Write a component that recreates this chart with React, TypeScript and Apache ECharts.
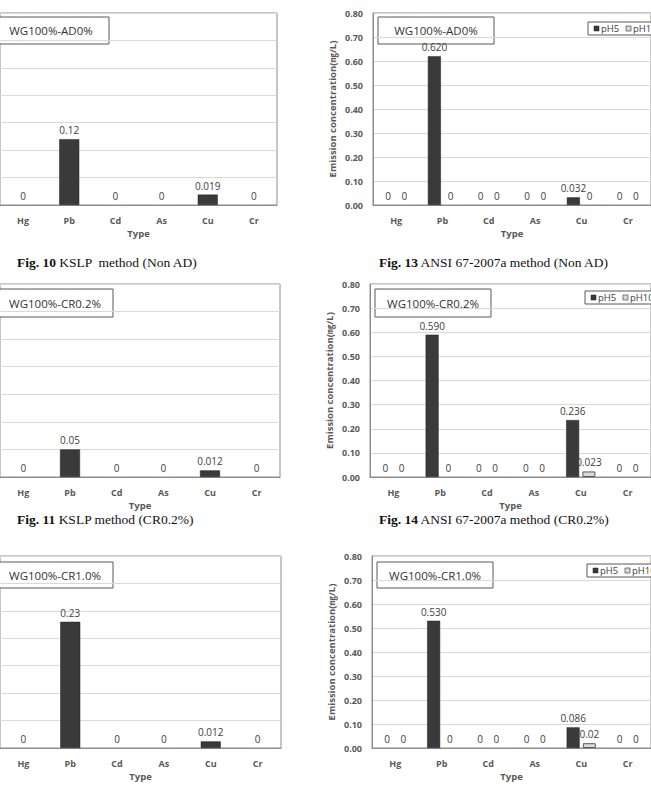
import React, { useEffect, useRef } from "react";
import * as echarts from "echarts";

// Heavy-metal leaching results, one bar chart per method and mix
const categories = ["Hg", "Pb", "Cd", "As", "Cu", "Cr"];

// KSLP method (mg/L)
const kslpNonAD = [0, 0.12, 0, 0, 0.019, 0];
const kslpCR02 = [0, 0.05, 0, 0, 0.012, 0];
const kslpCR10 = [0, 0.23, 0, 0, 0.012, 0];

// ANSI 67-2007a method (mg/L), pH5 and pH10 extractions
const ansiNonAD_pH5 = [0, 0.62, 0, 0, 0.032, 0];
const ansiNonAD_pH10 = [0, 0, 0, 0, 0, 0];
const ansiCR02_pH5 = [0, 0.59, 0, 0, 0.236, 0];
const ansiCR02_pH10 = [0, 0, 0, 0, 0.023, 0];
const ansiCR10_pH5 = [0, 0.53, 0, 0, 0.086, 0];
const ansiCR10_pH10 = [0, 0, 0, 0, 0.02, 0];

const mixLabels = ["WG100%-AD0%", "WG100%-CR0.2%", "WG100%-CR1.0%"];
const kslpCaptions = [
  ["Fig. 10", " KSLP  method (Non AD)"],
  ["Fig. 11", " KSLP method (CR0.2%)"],
];
const ansiCaptions = [
  ["Fig. 13", " ANSI 67-2007a method (Non AD)"],
  ["Fig. 14", " ANSI 67-2007a method (CR0.2%)"],
];

const yAxisName = "Emission concentration(\u338E/L)";
const xAxisName = "Type";
const seriesNames = ["pH5", "pH10"];

const FONT = "'Open Sans', 'Noto Sans CJK KR', sans-serif";
const AXIS_GRAY = "#595959";
const FRAME = "#8c8c8c";
const GRIDLINE = "#d9d9d9";
const DARK = "#3a3a3a";
const LIGHT = "#d9d9d9";

// panel layout (pixels)
const rows = [
  { top: 13, height: 192, leftL: -12, rightL: 277, leftR: 373, box: [17, 44], legendTop: 22 },
  { top: 284, height: 193, leftL: -11, rightL: 280, leftR: 370, box: [289, 317], legendTop: 291 },
  { top: 556, height: 192, leftL: -10, rightL: 281, leftR: 372, box: [562, 588], legendTop: 564 },
];

const fmtFixed = (v: number) => (v === 0 ? "0" : v.toFixed(3));
const fmtPlain = (v: number) => (v === 0 ? "0" : String(v));

// zero-height bars get no outline, so only their value label remains
const toBarData = (values: number[]) =>
  values.map((v) => (v === 0 ? { value: v, itemStyle: { borderWidth: 0 } } : v));

export default function App() {
  const ref = useRef<HTMLDivElement>(null);

  useEffect(() => {
    if (!ref.current) return;
    const chart = echarts.init(ref.current, null, { renderer: "svg" });

    const kslpData = [kslpNonAD, kslpCR02, kslpCR10];
    const ansiData = [
      [ansiNonAD_pH5, ansiNonAD_pH10],
      [ansiCR02_pH5, ansiCR02_pH10],
      [ansiCR10_pH5, ansiCR10_pH10],
    ];

    const grids: any[] = [];
    const xAxes: any[] = [];
    const yAxes: any[] = [];
    const series: any[] = [];
    const graphics: any[] = [];

    const xAxisBase = (gi: number) => ({
      type: "category",
      gridIndex: gi,
      data: categories,
      axisTick: { show: false },
      axisLine: { lineStyle: { color: FRAME, width: 1 } },
      axisLabel: {
        color: AXIS_GRAY,
        fontFamily: FONT,
        fontSize: 9,
        fontWeight: "bold",
        margin: 11,
      },
      name: xAxisName,
      nameLocation: "middle",
      nameGap: 24,
      nameTextStyle: { color: AXIS_GRAY, fontFamily: FONT, fontSize: 9.5, fontWeight: "bold" },
    });

    const valueLabel = (fmt: (v: number) => string) => ({
      show: true,
      position: "top",
      distance: 4,
      color: "#404040",
      fontFamily: FONT,
      fontSize: 10,
      formatter: (p: any) => fmt(p.value as number),
    });

    const labelBox = (x: number, y0: number, y1: number, text: string) => ({
      type: "group",
      z: 100,
      children: [
        {
          type: "rect",
          shape: { x, y: y0, width: 116, height: y1 - y0 },
          style: { fill: "#fff", stroke: AXIS_GRAY, lineWidth: 1 },
        },
        {
          type: "text",
          x: x + 58,
          y: (y0 + y1) / 2,
          style: {
            text,
            fill: "#333",
            fontFamily: FONT,
            fontSize: 11.5,
            textAlign: "center",
            textVerticalAlign: "middle",
          },
        },
      ],
    });

    const legendBox = (x: number, y: number) => ({
      type: "group",
      z: 100,
      children: [
        {
          type: "rect",
          shape: { x, y, width: 110, height: 13 },
          style: { fill: "#fff", stroke: AXIS_GRAY, lineWidth: 1 },
        },
        {
          type: "rect",
          shape: { x: x + 6, y: y + 4, width: 5, height: 5 },
          style: { fill: DARK, stroke: "#222", lineWidth: 0.5 },
        },
        {
          type: "text",
          x: x + 13,
          y: y + 6.5,
          style: {
            text: seriesNames[0],
            fill: "#404040",
            fontFamily: FONT,
            fontSize: 9.5,
            textVerticalAlign: "middle",
          },
        },
        {
          type: "rect",
          shape: { x: x + 38, y: y + 4, width: 5, height: 5 },
          style: { fill: LIGHT, stroke: AXIS_GRAY, lineWidth: 0.8 },
        },
        {
          type: "text",
          x: x + 45,
          y: y + 6.5,
          style: {
            text: seriesNames[1],
            fill: "#404040",
            fontFamily: FONT,
            fontSize: 9.5,
            textVerticalAlign: "middle",
          },
        },
      ],
    });

    rows.forEach((r, i) => {
      // KSLP panel (left column)
      const gL = grids.length;
      grids.push({
        left: r.leftL,
        top: r.top,
        width: r.rightL - r.leftL,
        height: r.height,
        show: true,
        borderColor: FRAME,
        borderWidth: 1,
        backgroundColor: "transparent",
      });
      xAxes.push(xAxisBase(gL));
      yAxes.push({
        type: "value",
        gridIndex: gL,
        min: 0,
        max: 0.35,
        interval: 0.05,
        axisLine: { show: false },
        axisTick: { show: false },
        axisLabel: { show: false },
        splitLine: { lineStyle: { color: GRIDLINE, width: 1 } },
      });
      series.push({
        type: "bar",
        name: "KSLP",
        xAxisIndex: gL,
        yAxisIndex: gL,
        data: toBarData(kslpData[i]),
        barWidth: 20,
        itemStyle: { color: DARK, borderColor: "#222", borderWidth: 0.5 },
        label: valueLabel(fmtPlain),
      });

      // ANSI panel (right column)
      const gR = grids.length;
      grids.push({
        left: r.leftR,
        top: r.top,
        width: 293,
        height: r.height,
        show: true,
        borderColor: FRAME,
        borderWidth: 1,
        backgroundColor: "transparent",
      });
      xAxes.push(xAxisBase(gR));
      yAxes.push({
        type: "value",
        gridIndex: gR,
        min: 0,
        max: 0.8,
        interval: 0.1,
        axisLine: { show: true, lineStyle: { color: FRAME, width: 1 } },
        axisTick: { show: false },
        axisLabel: {
          color: AXIS_GRAY,
          fontFamily: FONT,
          fontSize: 9,
          fontWeight: "bold",
          margin: 10,
          formatter: (v: number) => v.toFixed(2),
        },
        splitLine: { lineStyle: { color: GRIDLINE, width: 1 } },
        name: yAxisName,
        nameLocation: "middle",
        nameRotate: 90,
        nameGap: 36,
        nameTextStyle: { color: AXIS_GRAY, fontFamily: FONT, fontSize: 9.5, fontWeight: "bold" },
      });
      series.push({
        type: "bar",
        name: seriesNames[0],
        xAxisIndex: gR,
        yAxisIndex: gR,
        data: toBarData(ansiData[i][0]),
        barWidth: 13,
        barGap: "25%",
        itemStyle: { color: DARK, borderColor: "#222", borderWidth: 0.5 },
        label: valueLabel(fmtFixed),
      });
      series.push({
        type: "bar",
        name: seriesNames[1],
        xAxisIndex: gR,
        yAxisIndex: gR,
        data: toBarData(ansiData[i][1]),
        barWidth: 13,
        barGap: "25%",
        itemStyle: { color: LIGHT, borderColor: "#595959", borderWidth: 1 },
        label: valueLabel(fmtPlain),
      });

      // mix label boxes and legend
      const [by0, by1] = r.box;
      graphics.push(labelBox(i === 0 ? -7 : -3, by0, by1, mixLabels[i]));
      graphics.push(labelBox(r.leftR + 5, by0, by1, mixLabels[i]));
      graphics.push(legendBox(r.leftR + 215, r.legendTop));
    });

    // figure captions
    const captionY = [262, 519];
    captionY.forEach((cy, i) => {
      [
        { x: 17, c: kslpCaptions[i] },
        { x: 379, c: ansiCaptions[i] },
      ].forEach(({ x, c }) => {
        graphics.push({
          type: "text",
          x,
          y: cy,
          style: {
            text: `{b|${c[0]}}{n|${c[1]}}`,
            textVerticalAlign: "middle",
            rich: {
              b: { fontFamily: "'Liberation Serif', serif", fontSize: 13.5, fontWeight: "bold", fill: "#111" },
              n: { fontFamily: "'Liberation Serif', serif", fontSize: 13.5, fill: "#111" },
            },
          },
        });
      });
    });

    chart.setOption({
      animation: false,
      backgroundColor: "#fff",
      grid: grids,
      xAxis: xAxes,
      yAxis: yAxes,
      series,
      graphic: graphics,
    });

    return () => chart.dispose();
  }, []);

  return (
    <div
      ref={ref}
      style={{ position: "absolute", left: 0, top: 0, width: 651, height: 793 }}
    />
  );
}
